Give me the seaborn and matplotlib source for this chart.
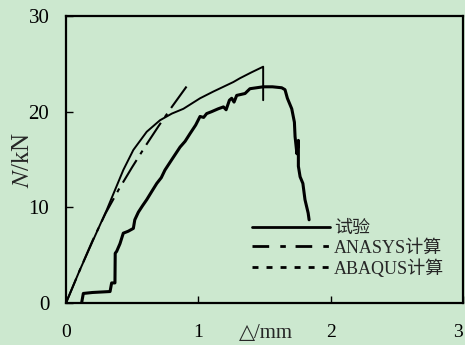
import matplotlib
matplotlib.use("Agg")
import matplotlib.pyplot as plt
from matplotlib.lines import Line2D
import matplotlib.transforms as mtransforms
import numpy as np
import pandas as pd
import seaborn as sns

# Load-displacement data (displacement in mm, load in kN)
test_disp = [0.118, 0.131, 0.20, 0.333, 0.345, 0.37, 0.372, 0.383, 0.408, 0.433,
             0.47, 0.509, 0.52, 0.547, 0.58, 0.61, 0.65, 0.686, 0.72, 0.748,
             0.80, 0.862, 0.90, 0.937, 0.98, 1.013, 1.04, 1.063, 1.10, 1.15,
             1.19, 1.21, 1.235, 1.252, 1.27, 1.29, 1.353, 1.39, 1.44, 1.49,
             1.56, 1.63, 1.655, 1.673, 1.706, 1.726, 1.731, 1.745, 1.756, 1.756,
             1.769, 1.79, 1.806, 1.83, 1.837]
test_load = [0.0, 1.0, 1.1, 1.2, 2.1, 2.1, 5.2, 5.4, 6.2, 7.3,
             7.5, 7.8, 8.7, 9.5, 10.2, 10.8, 11.7, 12.5, 13.1, 13.9,
             15.0, 16.3, 16.9, 17.7, 18.6, 19.5, 19.4, 19.8, 20.0, 20.3,
             20.5, 20.2, 21.2, 21.4, 21.0, 21.7, 21.9, 22.4, 22.5, 22.6,
             22.6, 22.5, 22.3, 21.4, 20.3, 18.9, 17.4, 15.6, 17.0, 14.3,
             13.2, 12.5, 10.8, 9.4, 8.7]

ansys_disp = [0.0, 0.10, 0.20, 0.30, 0.40, 0.50, 0.60, 0.70, 0.80, 0.92]
ansys_load = [0.0, 3.3, 6.5, 9.4, 11.9, 14.2, 16.4, 18.5, 20.5, 22.8]

abaqus_disp = [0.0, 0.10, 0.206, 0.307, 0.433, 0.509, 0.61, 0.71, 0.80, 0.887,
               1.013, 1.113, 1.265, 1.315, 1.40, 1.49, 1.49]
abaqus_load = [0.0, 3.3, 6.6, 9.7, 13.9, 16.0, 17.9, 19.1, 19.8, 20.3,
               21.4, 22.1, 23.1, 23.5, 24.1, 24.7, 21.2]

x_ticks = [0, 1, 2, 3]
y_ticks = [0, 10, 20, 30]
legend_labels = ["试验", "ANASYS计算", "ABAQUS计算"]

bg = "#cce8cf"
sns.set_theme(style="ticks")
plt.rcParams["font.family"] = ["Liberation Serif", "Noto Sans CJK SC", "DejaVu Sans"]
plt.rcParams["mathtext.fontset"] = "stix"
plt.rcParams["lines.scale_dashes"] = False

fig = plt.figure(figsize=(4.65, 3.45), dpi=100, facecolor=bg)
ax = fig.add_axes([0.1419, 0.1217, 0.8538, 0.8319])
ax.set_facecolor(bg)

df_test = pd.DataFrame({"d": test_disp, "N": test_load})
df_ansys = pd.DataFrame({"d": ansys_disp, "N": ansys_load})
df_abaqus = pd.DataFrame({"d": abaqus_disp, "N": abaqus_load})

# ABAQUS curve: fine dots printed so densely they read as a thin line
sns.lineplot(data=df_abaqus, x="d", y="N", sort=False, estimator=None, ax=ax,
             color="black", linewidth=1.4)
sns.lineplot(data=df_ansys, x="d", y="N", sort=False, estimator=None, ax=ax,
             color="black", linewidth=1.5, linestyle=(0, (19, 5, 3, 5)))
sns.lineplot(data=df_test, x="d", y="N", sort=False, estimator=None, ax=ax,
             color="black", linewidth=2.2)

ax.set_xlim(0, 3)
ax.set_ylim(0, 30)
ax.set_xticks(x_ticks)
ax.set_yticks(y_ticks)
ax.set_xticklabels([str(t) for t in x_ticks])
ax.set_yticklabels([str(t) for t in y_ticks])
ax.tick_params(axis="x", direction="in", length=5, width=1.0, pad=15,
               labelsize=14, colors="black")
ax.tick_params(axis="y", direction="in", length=5, width=1.0, pad=12,
               labelsize=15, colors="black")
ax.get_xticklabels()[-1].set_horizontalalignment("right")
for s in ax.spines.values():
    s.set_linewidth(1.6)
    s.set_color("black")
ax.set_xlabel("")
ax.set_ylabel("$N$/kN", fontsize=18)
ax.yaxis.set_label_coords(-0.08, 0.5)

trans = mtransforms.blended_transform_factory(ax.transData, ax.transAxes)
ax.text(1.51, -0.107, "△/mm", transform=trans, ha="center", va="center",
        fontsize=15, family=["Liberation Serif", "DejaVu Sans"])

handles = [
    Line2D([], [], color="black", linewidth=2.0),
    Line2D([], [], color="black", linewidth=2.0, linestyle=(0, (12, 8, 4, 7))),
    Line2D([], [], color="black", linewidth=2.0, linestyle=(0, (4.3, 5.8))),
]
ax.legend(handles, legend_labels, loc="lower left", bbox_to_anchor=(0.45, 0.063),
          frameon=False, fontsize=13, handlelength=4.3, handletextpad=0.25,
          labelspacing=0.13, borderaxespad=0)

fig.savefig("out.png", dpi=100, facecolor=bg)
